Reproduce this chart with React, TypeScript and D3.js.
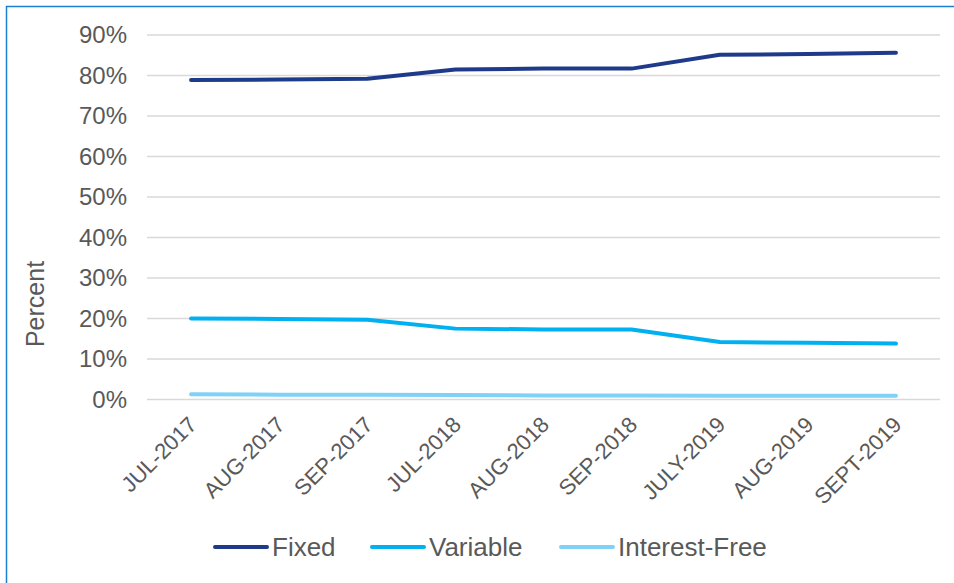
import React from "react";
import * as d3 from "d3";

const categories = [
  "JUL-2017",
  "AUG-2017",
  "SEP-2017",
  "JUL-2018",
  "AUG-2018",
  "SEP-2018",
  "JULY-2019",
  "AUG-2019",
  "SEPT-2019",
];

const fixed = [78.9, 79.0, 79.2, 81.5, 81.7, 81.7, 85.1, 85.3, 85.6];
const variable = [20.0, 19.9, 19.7, 17.5, 17.3, 17.3, 14.2, 14.0, 13.8];
const interestFree = [1.3, 1.2, 1.2, 1.1, 1.0, 1.0, 0.9, 0.9, 0.9];

const yTicks = [0, 10, 20, 30, 40, 50, 60, 70, 80, 90];

const series = [
  { name: "Fixed", values: fixed, color: "#1F3A8A" },
  { name: "Variable", values: variable, color: "#00B0F0" },
  { name: "Interest-Free", values: interestFree, color: "#7FD1F8" },
];

const W = 954;
const H = 583;
const FONT = "'Liberation Sans', Arial, sans-serif";
const TEXT = "#595959";

export default function App() {
  const x = d3.scaleBand().domain(categories).range([147, 940]);
  const y = d3.scaleLinear().domain([0, 90]).range([399.5, 35]);
  const cx = (c: string) => (x(c) ?? 0) + x.bandwidth() / 2;

  const line = d3
    .line<number>()
    .x((_, i) => cx(categories[i]))
    .y((d) => y(d));

  // legend line start positions
  const legendX = [215, 372, 561];

  return (
    <div style={{ position: "absolute", left: 0, top: 0 }}>
      <svg width={W} height={H} style={{ display: "block" }}>
        <rect x={0} y={0} width={W} height={H} fill="#fff" />
        <rect
          x={6.5}
          y={6.5}
          width={W + 20}
          height={H + 20}
          fill="none"
          stroke="#1A7FD0"
          strokeWidth={1.5}
        />

        {/* gridlines */}
        {yTicks.map((t) => (
          <line
            key={t}
            x1={147}
            x2={940}
            y1={y(t)}
            y2={y(t)}
            stroke="#D9D9D9"
            strokeWidth={1.5}
          />
        ))}

        {/* y tick labels */}
        {yTicks.map((t) => (
          <text
            key={t}
            x={127}
            y={y(t)}
            dy="0.35em"
            textAnchor="end"
            fontFamily={FONT}
            fontSize={24}
            fill={TEXT}
          >
            {t}%
          </text>
        ))}

        <text
          transform={`translate(44,304) rotate(-90)`}
          textAnchor="middle"
          fontFamily={FONT}
          fontSize={25}
          fill={TEXT}
        >
          Percent
        </text>

        {/* x tick labels */}
        {categories.map((c) => (
          <text
            key={c}
            transform={`translate(${cx(c) + 7},${426}) rotate(-45)`}
            textAnchor="end"
            fontFamily={FONT}
            fontSize={22}
            fill={TEXT}
          >
            {c}
          </text>
        ))}

        {/* lines */}
        {series
          .slice()
          .reverse()
          .map((s) => (
            <path
              key={s.name}
              d={line(s.values) ?? ""}
              fill="none"
              stroke={s.color}
              strokeWidth={4}
              strokeLinecap="round"
              strokeLinejoin="round"
            />
          ))}

        {/* legend */}
        {series.map((s, i) => (
          <g key={s.name}>
            <line
              x1={legendX[i]}
              x2={legendX[i] + 52}
              y1={547}
              y2={547}
              stroke={s.color}
              strokeWidth={4}
              strokeLinecap="round"
            />
            <text
              x={legendX[i] + 57}
              y={547}
              dy="0.35em"
              fontFamily={FONT}
              fontSize={26}
              fill={TEXT}
            >
              {s.name}
            </text>
          </g>
        ))}
      </svg>
    </div>
  );
}
